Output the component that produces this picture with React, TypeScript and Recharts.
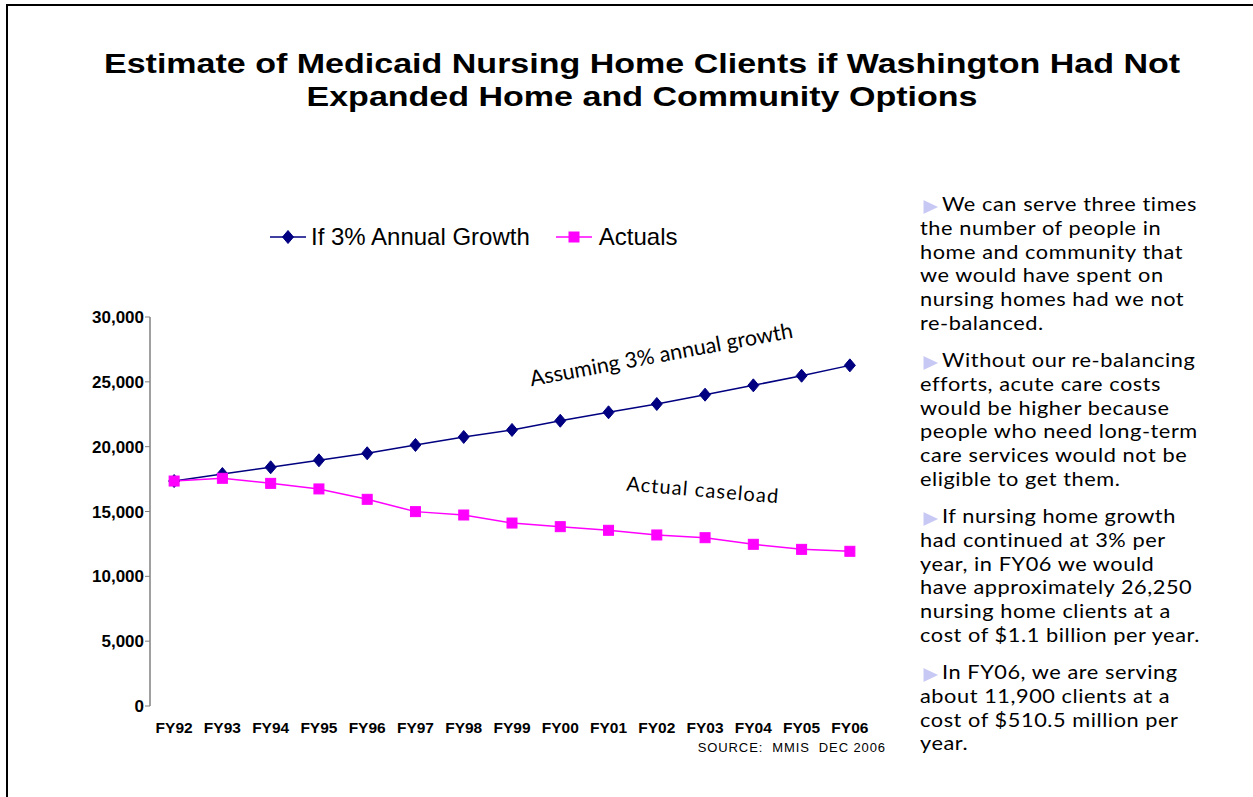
import React from 'react';
import { ComposedChart, Line, XAxis, YAxis } from 'recharts';

const categories = ['FY92', 'FY93', 'FY94', 'FY95', 'FY96', 'FY97', 'FY98', 'FY99', 'FY00', 'FY01', 'FY02', 'FY03', 'FY04', 'FY05', 'FY06'];
const growthValues = [17350, 17890, 18410, 18950, 19490, 20130, 20750, 21290, 22000, 22650, 23290, 24010, 24730, 25470, 26270];
const actualValues = [17350, 17560, 17170, 16740, 15940, 14990, 14730, 14110, 13830, 13550, 13190, 12980, 12470, 12080, 11930];
const yTicks = [0, 5000, 10000, 15000, 20000, 25000, 30000];
const boundaryTicks = [0, 1, 2, 3, 4, 5, 6, 7, 8, 9, 10, 11, 12, 13, 14, 15];

const seriesNames = ['If 3% Annual Growth', 'Actuals'];
const titleLines = ['Estimate of Medicaid Nursing Home Clients if Washington Had Not', 'Expanded Home and Community Options'];
const paragraphs = [
  ['We can serve three times', 'the number of people in', 'home and community that', 'we would have spent on', 'nursing homes had we not', 're-balanced.'],
  ['Without our re-balancing', 'efforts, acute care costs', 'would be higher because', 'people who need long-term', 'care services would not be', 'eligible to get them.'],
  ['If nursing home growth', 'had continued at 3% per', 'year, in FY06 we would', 'have approximately 26,250', 'nursing home clients at a', 'cost of $1.1 billion per year.'],
  ['In FY06, we are serving', 'about 11,900 clients at a', 'cost of $510.5 million per', 'year.'],
];

const data = categories.map((c, i) => ({ cat: c, growth: growthValues[i], actual: actualValues[i] }));

const NAVY = '#000080';
const MAGENTA = '#FF00FF';
const ARIAL = 'Liberation Sans, Arial, sans-serif';
const HUMAN = 'Lato, sans-serif';

const Diamond = (props: any) => {
  const { cx, cy } = props;
  if (cx == null || cy == null) return null;
  return <path d={`M${cx},${cy - 6.5} L${cx + 5.5},${cy} L${cx},${cy + 6.5} L${cx - 5.5},${cy} Z`} fill={NAVY} stroke={NAVY} />;
};

const Square = (props: any) => {
  const { cx, cy } = props;
  if (cx == null || cy == null) return null;
  return <rect x={cx - 5} y={cy - 5} width={10} height={10} fill={MAGENTA} stroke={MAGENTA} />;
};

const LINE_H = 23.8;

export default function App() {
  return (
    <div style={{ position: 'absolute', left: 0, top: 0, width: 1253, height: 797, overflow: 'hidden', background: '#fff' }}>
      <div style={{ position: 'absolute', left: 6, top: 4, width: 1260, height: 800, borderLeft: '2px solid #000', borderTop: '2px solid #000' }} />
      <div style={{ position: 'absolute', left: 0, top: 47.5, width: 1284, textAlign: 'center', fontFamily: ARIAL, fontWeight: 'bold', fontSize: 27, lineHeight: '33px', color: '#000' }}>
        {titleLines.map((t) => (
          <div key={t} style={{ height: 33, whiteSpace: 'nowrap', transform: 'scaleX(1.26)', transformOrigin: '642px 0' }}>{t}</div>
        ))}
      </div>

      {/* legend */}
      <div style={{ position: 'absolute', left: 268, top: 222, height: 30, display: 'flex', alignItems: 'center', fontFamily: ARIAL, fontSize: 24, color: '#000', whiteSpace: 'nowrap' }}>
        <svg width={40} height={14}>
          <line x1={2} y1={7} x2={38} y2={7} stroke={NAVY} strokeWidth={1.5} />
          <Diamond cx={20} cy={7} />
        </svg>
        <span style={{ marginLeft: 3 }}>{seriesNames[0]}</span>
        <svg width={40} height={14} style={{ marginLeft: 24 }}>
          <line x1={2} y1={7} x2={38} y2={7} stroke={MAGENTA} strokeWidth={1.5} />
          <Square cx={20} cy={7} />
        </svg>
        <span style={{ marginLeft: 5 }}>{seriesNames[1]}</span>
      </div>

      <div style={{ position: 'absolute', left: 0, top: 0 }}>
        <ComposedChart width={1253} height={797} data={data} margin={{ top: 317, right: 379, bottom: 61, left: 90 }}>
          <XAxis xAxisId="b" type="number" dataKey="x" domain={[0, 15]} ticks={boundaryTicks} allowDataOverflow height={0}
            tickFormatter={() => ''} axisLine={{ stroke: '#808080', strokeWidth: 1.5 }} tickLine={{ stroke: '#808080' }} tickSize={5} />
          <XAxis xAxisId="c" dataKey="cat" type="category" scale="band" height={30} axisLine={false} tickLine={false} interval={0}
            tick={{ fontFamily: ARIAL, fontWeight: 'bold', fontSize: 15.5, fill: '#000' }} tickMargin={10} />
          <YAxis width={60} domain={[0, 30000]} ticks={yTicks} interval={0} allowDataOverflow
            tickFormatter={(v: number) => v.toLocaleString('en-US')}
            axisLine={{ stroke: '#808080', strokeWidth: 1.5 }} tickLine={{ stroke: '#808080' }} tickSize={5} tickMargin={1}
            tick={{ fontFamily: ARIAL, fontWeight: 'bold', fontSize: 17, fill: '#000' }} />
          <Line xAxisId="c" dataKey="growth" name={seriesNames[0]} stroke={NAVY} strokeWidth={1.5} dot={<Diamond />} activeDot={false} isAnimationActive={false} />
          <Line xAxisId="c" dataKey="actual" name={seriesNames[1]} stroke={MAGENTA} strokeWidth={1.5} dot={<Square />} activeDot={false} isAnimationActive={false} />
        </ComposedChart>
      </div>

      {/* annotations */}
      <div style={{ position: 'absolute', left: 511, top: 340, width: 300, height: 28, lineHeight: '28px', textAlign: 'center', fontFamily: HUMAN, fontSize: 21.5, whiteSpace: 'nowrap', color: '#000', transform: 'rotate(-10.5deg)' }}>
        Assuming 3% annual growth
      </div>
      <div style={{ position: 'absolute', left: 553, top: 475, width: 300, height: 28, lineHeight: '28px', textAlign: 'center', fontFamily: HUMAN, fontSize: 20, letterSpacing: 1.1, whiteSpace: 'nowrap', color: '#000', transform: 'rotate(4.8deg)' }}>
        Actual caseload
      </div>
      <div style={{ position: 'absolute', left: 600, top: 740, width: 286, textAlign: 'right', fontFamily: ARIAL, fontSize: 13, letterSpacing: 0.9, color: '#000', whiteSpace: 'pre' }}>
        {'SOURCE:  MMIS  DEC 2006'}
      </div>

      {/* right text */}
      <div style={{ position: 'absolute', left: 920, top: 192, width: 300, fontFamily: HUMAN, fontSize: 19.8, letterSpacing: 0.5, color: '#000', transform: 'scaleX(1.1)', transformOrigin: '0 0' }}>
        {paragraphs.map((p, pi) => (
          <div key={pi} style={{ marginBottom: 13.2, whiteSpace: 'nowrap' }}>
            {p.map((line, li) => (
              <div key={li} style={{ height: LINE_H, lineHeight: `${LINE_H}px`, position: 'relative' }}>
                {li === 0 ? (
                  <span style={{ display: 'inline-block', width: 20, position: 'relative' }}>
                    <svg width={16} height={14} style={{ position: 'absolute', left: 3, top: -11 }}>
                      <path d="M0,0 L13.5,7 L0,14 Z" fill="#c8c8f4" />
                    </svg>
                  </span>
                ) : null}
                {line}
              </div>
            ))}
          </div>
        ))}
      </div>
    </div>
  );
}
